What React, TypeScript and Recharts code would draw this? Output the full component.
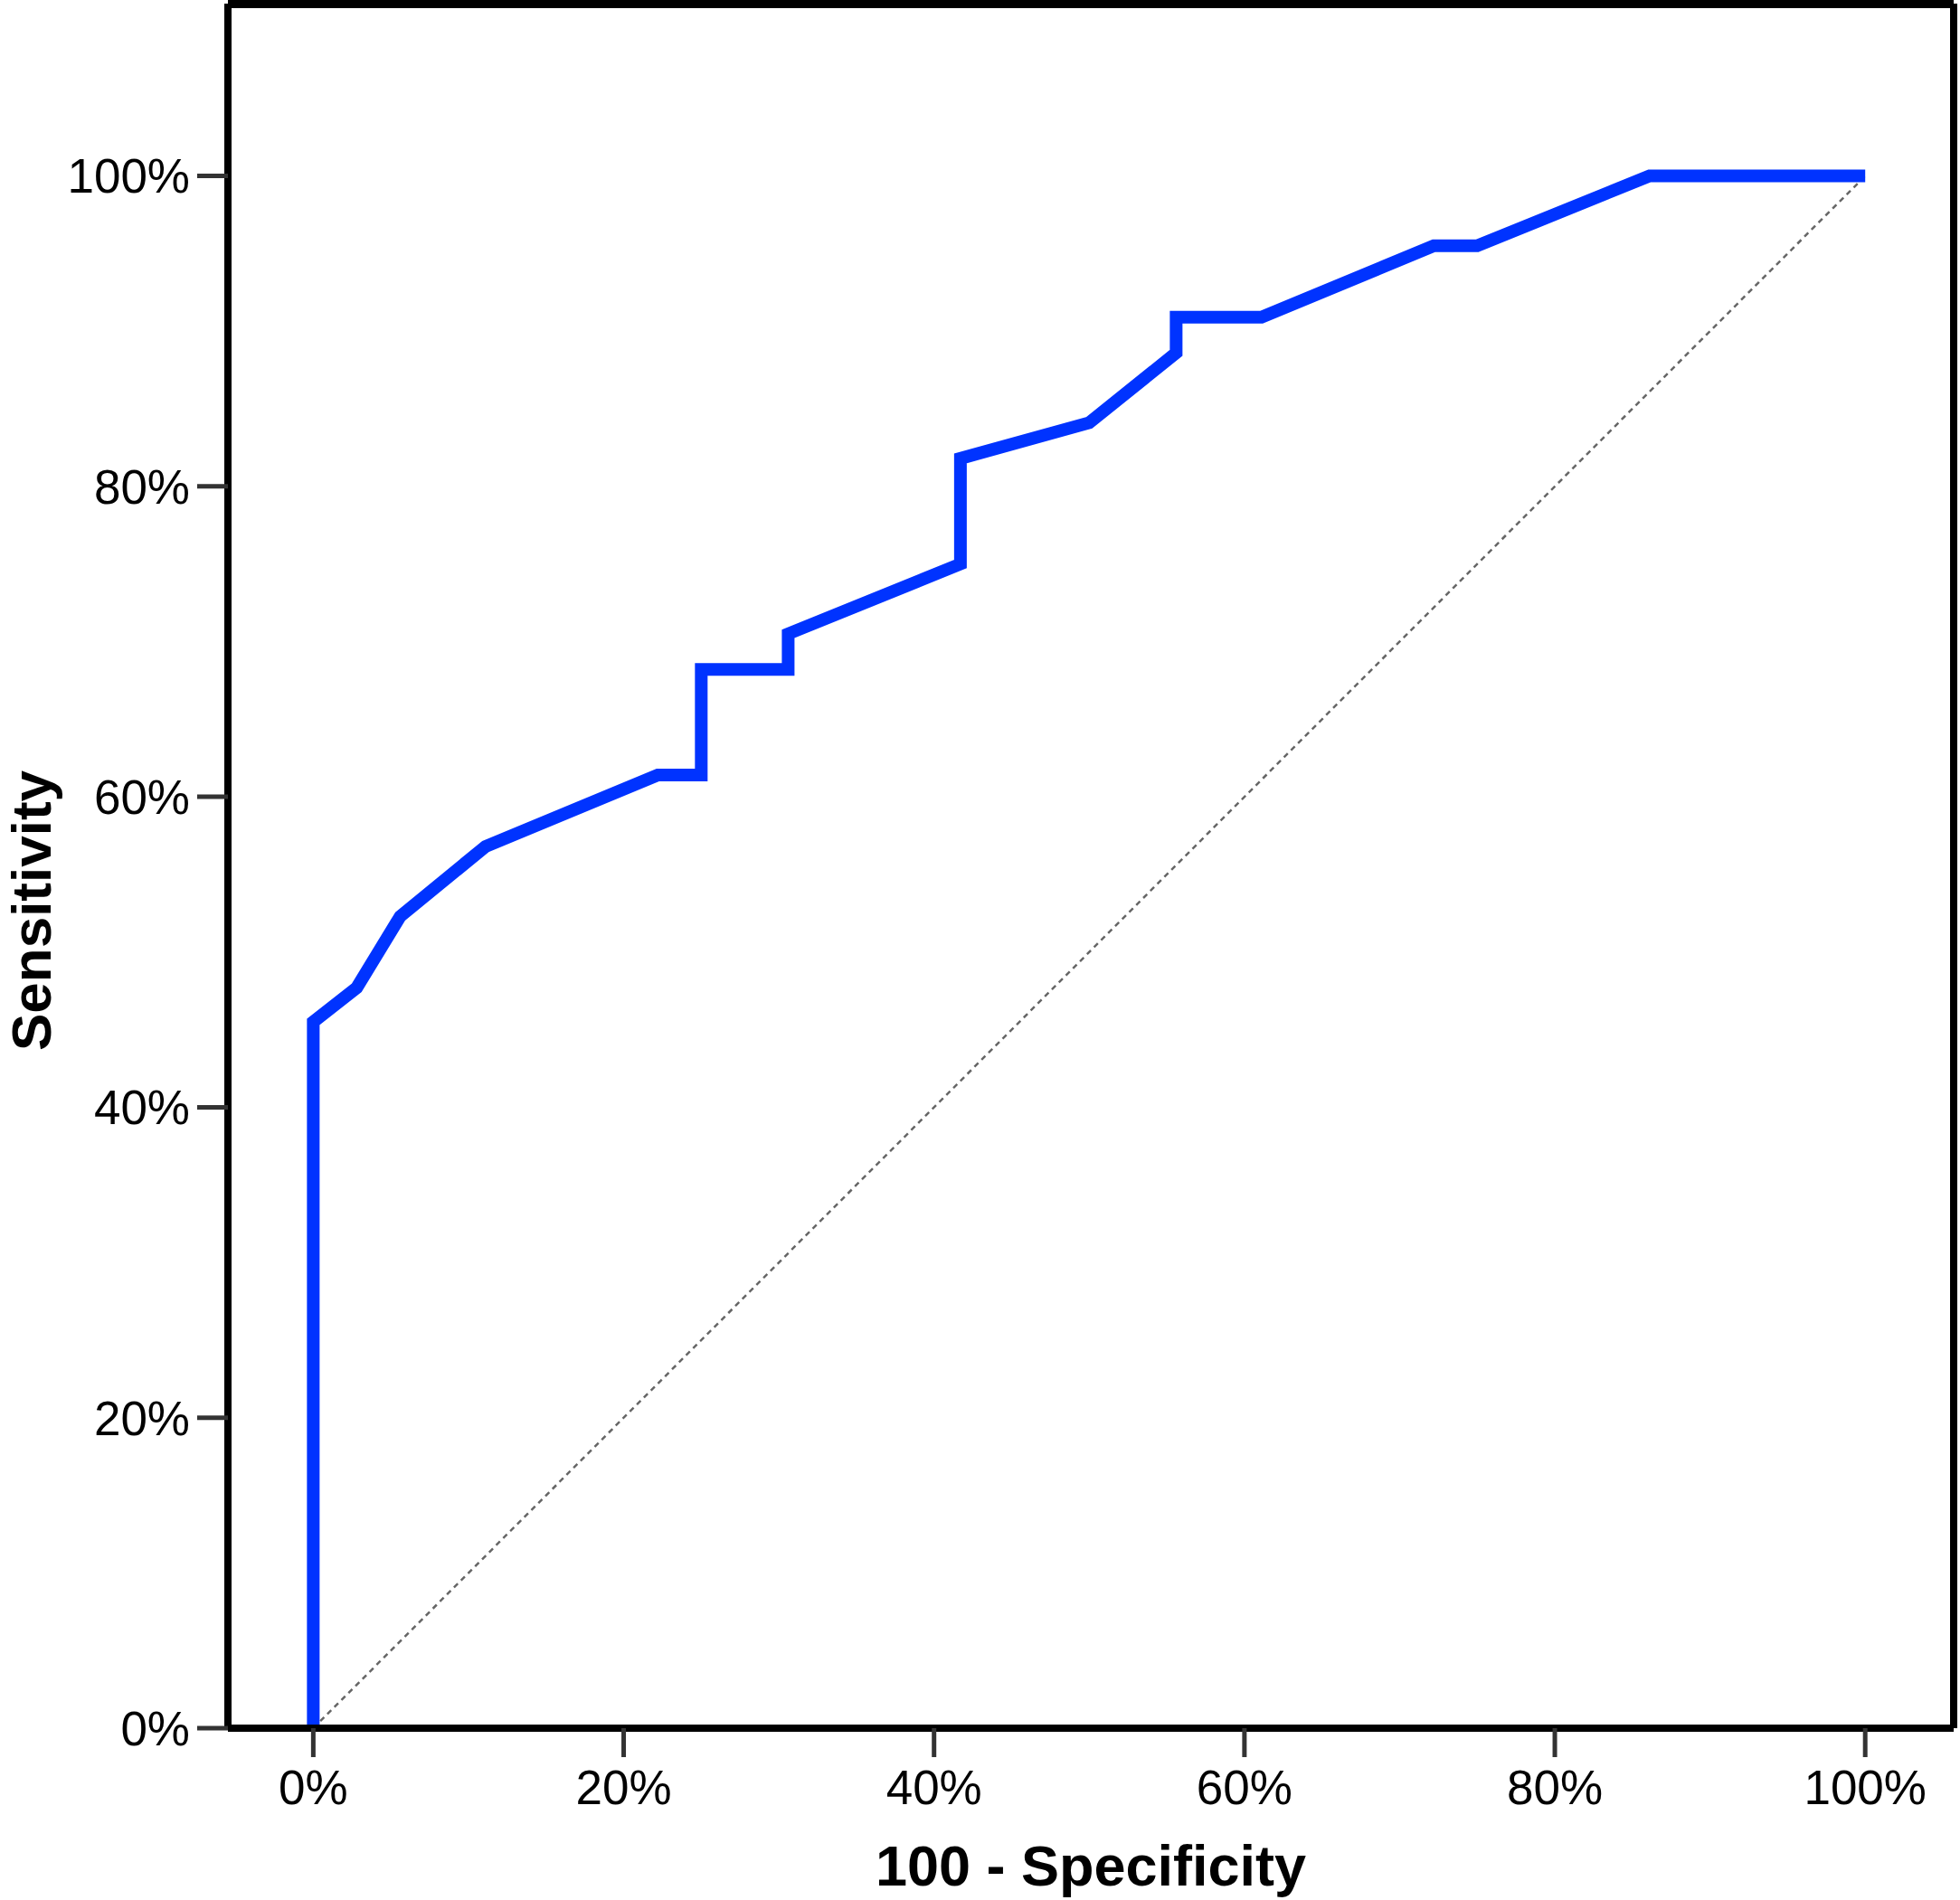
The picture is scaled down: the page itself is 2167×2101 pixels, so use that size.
import React from "react";
import {
  LineChart,
  Line,
  XAxis,
  YAxis,
  ReferenceLine,
} from "recharts";

// ROC curve points (100 - specificity, sensitivity), in %
const fpr = [0, 0, 2.8, 5.6, 11.1, 22.2, 25.0, 25.0, 30.6, 30.6, 41.7, 41.7, 50.0, 55.6, 55.6, 61.1, 72.2, 75.0, 86.1, 100];
const tpr = [0, 45.5, 47.7, 52.3, 56.8, 61.4, 61.4, 68.2, 68.2, 70.5, 75.0, 81.8, 84.1, 88.6, 90.9, 90.9, 95.5, 95.5, 100, 100];

// chance diagonal
const diagX = [0, 100];
const diagY = [0, 100];

const xTicks = [0, 20, 40, 60, 80, 100];
const yTicks = [0, 20, 40, 60, 80, 100];

const X_DOMAIN: [number, number] = [-5.5, 105.7];
const Y_DOMAIN: [number, number] = [0, 111.1];

const rocData = fpr.map((x, i) => ({ x, y: tpr[i] }));
const diagData = diagX.map((x, i) => ({ x, y: diagY[i] }));

const FONT = "'Liberation Sans', Arial, sans-serif";
const BLUE = "#0033ff";

const pct = (v: number) => `${v}%`;

function XTitle(props: any) {
  const vb = props.viewBox || {};
  return (
    <text
      x={vb.x + vb.width / 2}
      y={2085}
      textAnchor="middle"
      fontFamily={FONT}
      fontWeight="bold"
      fontSize={63}
      fill="#000"
    >
      100 - Specificity
    </text>
  );
}

function YTitle() {
  const cx = 34;
  const cy = 1007;
  return (
    <text
      x={cx}
      y={cy}
      textAnchor="middle"
      dominantBaseline="central"
      transform={`rotate(-90, ${cx}, ${cy})`}
      fontFamily={FONT}
      fontWeight="bold"
      fontSize={62}
      fill="#000"
    >
      Sensitivity
    </text>
  );
}

export default function App() {
  return (
    <div style={{ position: "absolute", left: 0, top: 0, background: "#fff" }}>
      <LineChart
        width={2167}
        height={2101}
        margin={{ top: 4, right: 7, bottom: 0, left: 0 }}
      >
        <XAxis
          dataKey="x"
          type="number"
          domain={X_DOMAIN}
          ticks={xTicks}
          tickFormatter={pct}
          allowDataOverflow
          height={190}
          axisLine={{ stroke: "#000", strokeWidth: 8 }}
          tickLine={{ stroke: "#333", strokeWidth: 5 }}
          tickSize={32}
          tickMargin={14}
          tick={{ fontSize: 53, fill: "#000", fontFamily: FONT }}
          label={<XTitle />}
        />
        <YAxis
          dataKey="y"
          type="number"
          domain={Y_DOMAIN}
          ticks={yTicks}
          tickFormatter={pct}
          allowDataOverflow
          width={252}
          axisLine={{ stroke: "#000", strokeWidth: 8 }}
          tickLine={{ stroke: "#333", strokeWidth: 5 }}
          tickSize={34}
          tickMargin={8}
          tick={{ fontSize: 53, fill: "#000", fontFamily: FONT }}
          label={<YTitle />}
        />
        {/* top and right frame */}
        <ReferenceLine y={Y_DOMAIN[1]} stroke="#000" strokeWidth={10} />
        <ReferenceLine x={X_DOMAIN[1]} stroke="#000" strokeWidth={8} />
        <Line
          data={diagData}
          dataKey="y"
          type="linear"
          stroke="#666"
          strokeWidth={2.5}
          strokeDasharray="6 5"
          dot={false}
          activeDot={false}
          isAnimationActive={false}
        />
        <Line
          data={rocData}
          dataKey="y"
          type="linear"
          stroke={BLUE}
          strokeWidth={14}
          strokeLinejoin="miter"
          strokeLinecap="butt"
          dot={false}
          activeDot={false}
          isAnimationActive={false}
        />
      </LineChart>
    </div>
  );
}
